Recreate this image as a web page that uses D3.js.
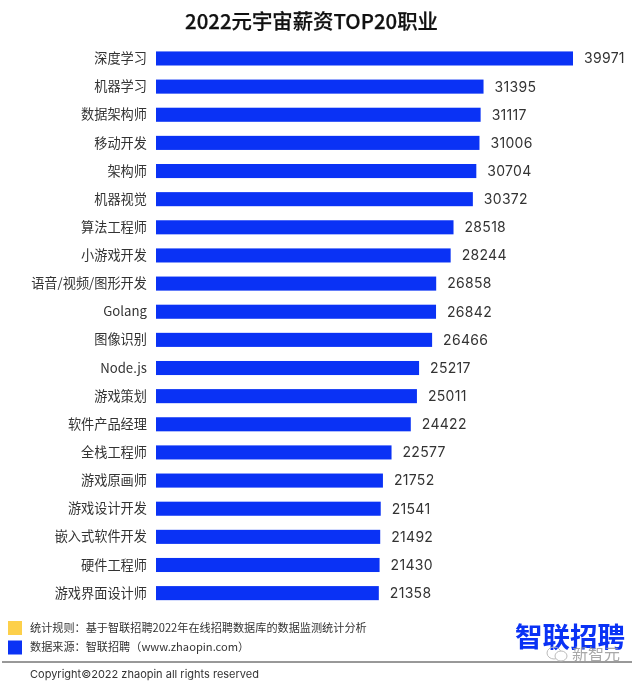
<!DOCTYPE html>
<html><head><meta charset="utf-8">
<script src="https://cdn.jsdelivr.net/npm/d3@7/dist/d3.min.js"></script>
<style>html,body{margin:0;padding:0;background:#fff}svg{display:block;filter:blur(.35px)}</style>
</head><body><svg id="c" width="640" height="681"></svg>
<script>
const categories=["深度学习","机器学习","数据架构师","移动开发","架构师","机器视觉","算法工程师","小游戏开发","语音/视频/图形开发","Golang","图像识别","Node.js","游戏策划","软件产品经理","全栈工程师","游戏原画师","游戏设计开发","嵌入式软件开发","硬件工程师","游戏界面设计师"];
const salaries=[39971,31395,31117,31006,30704,30372,28518,28244,26858,26842,26466,25217,25011,24422,22577,21752,21541,21492,21430,21358];
const chartTitle="2022元宇宙薪资TOP20职业";
const legendNotes=["统计规则：基于智联招聘2022年在线招聘数据库的数据监测统计分析","数据来源：智联招聘（www.zhaopin.com）"];
const legendColors=["#fdd04a","#0a32f5"];
const copyright="Copyright©2022 zhaopin all rights reserved";
const logoText="智联招聘", watermark="新智元";
const font="'Noto Sans CJK SC','Inter',sans-serif";

const svg=d3.select("#c").style("font-family",font);
const x=d3.scaleLinear().domain([0,39971]).range([156,573]);
const y=d3.scaleBand().domain(categories).range([44.4,607.2]).paddingInner(.5).paddingOuter(.25);

svg.append("text").attr("x",311.5).attr("y",29).attr("text-anchor","middle")
  .attr("font-size",20.4).attr("font-weight",500).attr("stroke","#111").attr("stroke-width",.25).attr("fill","#111").text(chartTitle);

const rows=svg.append("g");
rows.selectAll("rect").data(categories).join("rect")
  .attr("x",x(0)).attr("y",d=>y(d)).attr("height",y.bandwidth())
  .attr("width",(d,i)=>x(salaries[i])-x(0)).attr("fill","#0a32f5");
rows.selectAll("text.cat").data(categories).join("text").attr("class","cat")
  .attr("x",147).attr("y",d=>y(d)+y.bandwidth()/2).attr("dy",".35em")
  .attr("text-anchor","end").attr("font-size",13.2).attr("fill","#333").text(d=>d);
rows.selectAll("text.val").data(salaries).join("text").attr("class","val")
  .attr("x",(d)=>x(d)+11).attr("y",(d,i)=>y(categories[i])+y.bandwidth()/2).attr("dy",".35em")
  .attr("font-size",14).attr("font-family","Inter,sans-serif").attr("letter-spacing",".3").attr("fill","#333").text(d=>d);

const leg=svg.append("g");
leg.selectAll("rect").data(legendColors).join("rect")
  .attr("x",8).attr("y",(d,i)=>621+i*19.5).attr("width",14).attr("height",14).attr("fill",d=>d);
leg.selectAll("text").data(legendNotes).join("text")
  .attr("x",30).attr("y",(d,i)=>628+i*19.5).attr("dy",".35em")
  .attr("font-size",11.15).attr("fill","#333").text(d=>d);

svg.append("line").attr("x1",2).attr("x2",632).attr("y1",662).attr("y2",662).attr("stroke","#333").attr("stroke-width",1);
svg.append("text").attr("x",30).attr("y",674).attr("dy",".35em").attr("font-size",11)
  .attr("font-family","Inter,sans-serif").attr("fill","#333").text(copyright);

svg.append("text").attr("x",515).attr("y",647).attr("font-size",27.5).attr("font-weight",700)
  .attr("fill","#0a32f5").text(logoText);
svg.append("ellipse").attr("cx",554).attr("cy",653).attr("rx",7).attr("ry",6).attr("fill","none").attr("stroke","#bbb");
svg.append("ellipse").attr("cx",561).attr("cy",656).attr("rx",6).attr("ry",5).attr("fill","#fff").attr("stroke","#bbb");
svg.append("text").attr("x",572).attr("y",660).attr("font-size",16).attr("fill","#999").attr("opacity",.85).text(watermark);
</script></body></html>
